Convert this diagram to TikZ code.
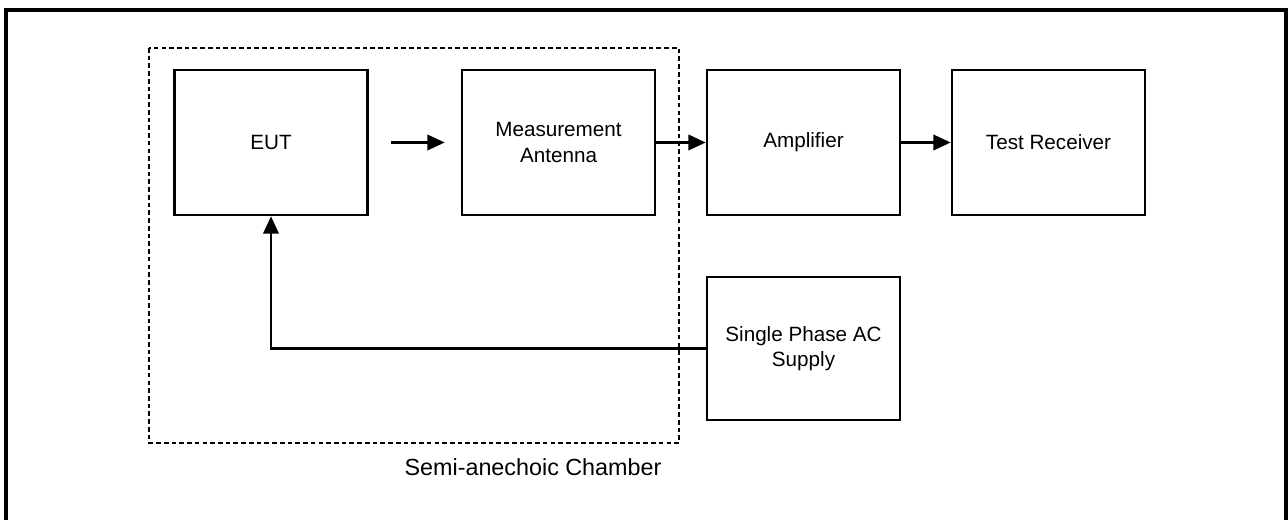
\documentclass[tikz,border=0pt]{standalone}
\usepackage{fontspec}
\setmainfont{Liberation Sans}
\usetikzlibrary{arrows.meta}

\begin{document}
\begin{tikzpicture}[x=0.75pt,y=-0.75pt,
   box/.style={draw,line width=1.9pt,minimum width=144.75pt,minimum height=108.75pt,
      inner sep=0pt,align=center,font=\fontsize{15.5}{19}\selectfont},
   conn/.style={line width=1.9pt,-{Triangle[length=13pt,width=11.5pt]}}]
   \useasboundingbox (0,0) rectangle (1288,520);
   \draw[line width=3pt] (5.5,520) -- (5.5,10) -- (1286,10) -- (1286,520);
   \draw[line width=1.9pt,dash pattern=on 3.5pt off 2.3pt] (149,48) rectangle (679,443);
   \node[font=\fontsize{17.5}{21}\selectfont] (chamber) at (533,467) {Semi-anechoic Chamber};
   \node[box] (eut) at (271,142.5) {EUT};
   \node[box] (ant) at (558.5,142.5) {Measurement\\Antenna};
   \node[box] (amp) at (803.5,142.5) {Amplifier};
   \node[box] (rx) at (1048.5,142.5) {Test Receiver};
   \node[box,minimum height=107.25pt] (ac) at (803.5,348.5) {Single Phase AC\\Supply};
   \draw[conn,shorten <=17pt,shorten >=12pt] (eut) -- (ant);
   \draw[conn] (ant) -- (amp);
   \draw[conn] (amp) -- (rx);
   \draw[conn] (ac.west) -| (eut.south);
 \end{tikzpicture}
\end{document}
